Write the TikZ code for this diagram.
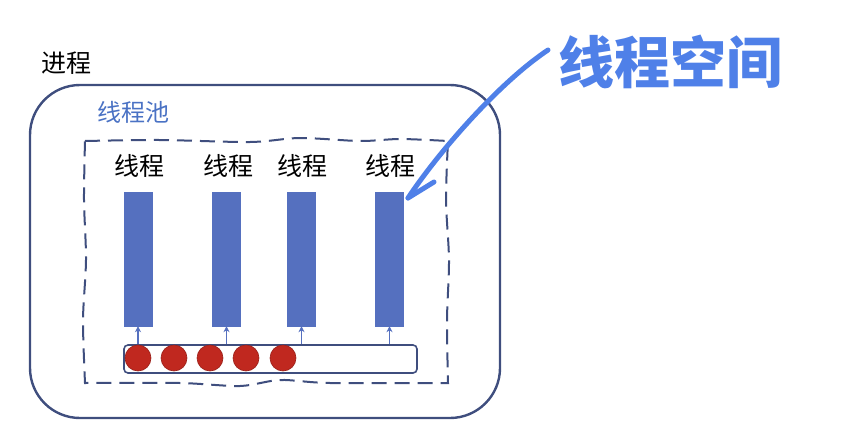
\documentclass[tikz,border=0pt]{standalone}
\usepackage{fontspec}
\newfontfamily\cjk{Noto Sans CJK SC}
\usetikzlibrary{arrows.meta}
\definecolor{navy}{HTML}{3F4E7E}
\definecolor{barblue}{HTML}{5570BF}
\definecolor{poolblue}{HTML}{4A72C4}
\definecolor{ballred}{HTML}{C0281F}
\definecolor{handblue}{HTML}{4F80E8}
\tikzset{
  lbl/.style={font=\cjk\fontsize{25}{29}\selectfont, inner sep=0pt},
  bar/.style={fill=barblue, draw=barblue, minimum width=28pt, minimum height=134pt, inner sep=0pt},
  ball/.style={circle, fill=ballred, draw=ballred!80!black, line width=0.6pt, minimum size=26pt, inner sep=0pt},
  arr/.style={draw=barblue, line width=1.4pt, -{Stealth[length=6pt,width=6pt]}},
  hand/.style={draw=handblue, line width=5pt, line cap=round, line join=round}
}
\begin{document}
\begin{tikzpicture}[x=1pt,y=-1pt]
\useasboundingbox (0,0) rectangle (854,442);
% process box
\node[draw=navy, line width=2.4pt, rounded corners=50pt, minimum width=470pt, minimum height=333pt] (proc) at (265,251.5) {};
\node[lbl] (proclbl) at (66,63) {进程};
\node[lbl, text=poolblue, font=\cjk\fontsize{24}{28}\selectfont] (poollbl) at (133,112) {线程池};
% dashed pool
\draw[navy, line width=2pt, dash pattern=on 15pt off 8pt]
  plot[smooth] coordinates {(85,141) (160,140) (250,142) (300,138) (360,141) (400,139) (448,141)}
  -- plot[smooth] coordinates {(448,141) (446,200) (449,260) (447,320) (448,383)}
  -- plot[smooth] coordinates {(448,383) (330,383) (280,380) (240,386) (180,383) (85,383)}
  -- plot[smooth] coordinates {(85,383) (83,320) (86,260) (84,200) (85,141)};
% thread labels
\node[lbl] (t1) at (139,166) {线程};
\node[lbl] (t2) at (228,166) {线程};
\node[lbl] (t3) at (302,166) {线程};
\node[lbl] (t4) at (390,166) {线程};
% bars
\node[bar] (b1) at (138,259) {};
\node[bar] (b2) at (226.5,259) {};
\node[bar] (b3) at (301.5,259) {};
\node[bar] (b4) at (389.5,259) {};
% queue
\node[draw=navy, line width=1.6pt, rounded corners=4pt, fill=white, minimum width=293pt, minimum height=28pt, inner sep=0pt] (q) at (270.5,359) {};
\foreach \n/\x in {1/138,2/174,3/210,4/246,5/283}{
  \node[ball] (c\n) at (\x,358) {};
}
\foreach \b in {b1,b2,b3,b4}{
  \draw[arr] (q.north -| \b.south) -- (\b.south);
}
% handwritten annotation
\node[text=handblue, font=\cjk\bfseries\fontsize{56}{60}\selectfont, inner sep=0pt] (note) at (670,62) {线程空间};
\coordinate (hs) at (548,50);
\coordinate (ht) at (408,198);
\coordinate (hb) at (434,182);
\draw[hand] (hs) .. controls (500,82) and (440,150) .. (ht);
\draw[hand] (ht) -- (hb);
\end{tikzpicture}
\end{document}
